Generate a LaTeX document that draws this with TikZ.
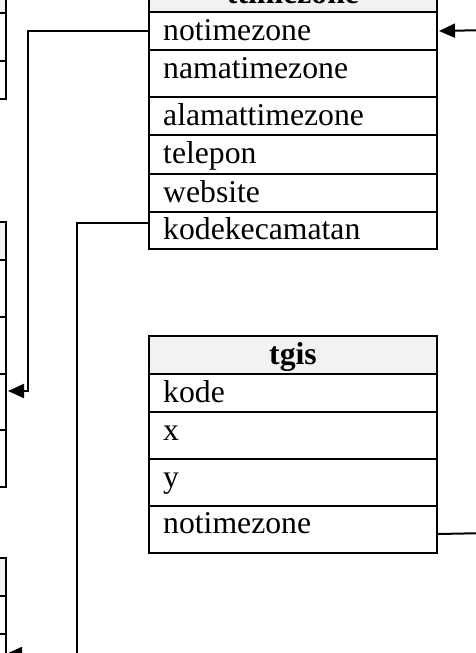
\documentclass[tikz,border=0pt]{standalone}
\usepackage{fontspec}
\setmainfont{Liberation Serif}
\usetikzlibrary{arrows.meta}
\definecolor{headgrey}{HTML}{F2F2F2}
\newcommand\myfieldfont{\fontsize{31.7pt}{36pt}\selectfont}
\tikzset{
  rowbox/.style={draw, line width=2pt, rectangle, inner sep=0pt, minimum width=288pt, anchor=north west, fill=white},
  headbox/.style={rowbox, fill=headgrey},
  leftbox/.style={draw, line width=2pt, rectangle, inner sep=0pt, minimum width=105pt, anchor=north west, fill=white},
  lefthead/.style={leftbox, fill=headgrey},
  fieldtext/.style={anchor=base west, inner sep=0pt, font=\myfieldfont},
  headtext/.style={anchor=base, inner sep=0pt, font=\myfieldfont\bfseries},
  conn/.style={draw, line width=2pt},
  arr/.style={conn, -{Triangle[length=16pt,width=14pt]}}
}
\begin{document}
\begin{tikzpicture}[x=1pt,y=-1pt]
\useasboundingbox (0,0) rectangle (476,653);
\clip (0,0) rectangle (476,653);
\fill[white] (0,0) rectangle (476,653);

% left partial tables (cut off)
\node[lefthead, minimum height=38pt] (la0) at (-100,-26) {};
\node[leftbox, minimum height=48pt] (la1) at (-100,12) {};
\node[leftbox, minimum height=38pt] (la2) at (-100,60) {};

\node[lefthead, minimum height=38pt] (lb0) at (-100,221) {};
\node[leftbox, minimum height=57pt] (lb1) at (-100,259) {};
\node[leftbox, minimum height=57pt] (lb2) at (-100,316) {};
\node[leftbox, minimum height=56pt] (lb3) at (-100,373) {};
\node[leftbox, minimum height=57pt] (lb4) at (-100,429) {};

\node[lefthead, minimum height=38pt] (lc0) at (-100,557) {};
\node[leftbox, minimum height=38pt] (lc1) at (-100,595) {};
\node[leftbox, minimum height=60pt] (lc2) at (-100,633) {};

% ttimezone
\node[headbox, minimum height=37pt] (tzh) at (148,-26) {};
\node[rowbox, minimum height=38pt] (tz1) at (148,11) {};
\node[rowbox, minimum height=47pt] (tz2) at (148,49) {};
\node[rowbox, minimum height=38pt] (tz3) at (148,96) {};
\node[rowbox, minimum height=39pt] (tz4) at (148,134) {};
\node[rowbox, minimum height=38pt] (tz5) at (148,173) {};
\node[rowbox, minimum height=37pt] (tz6) at (148,211) {};
\node[headtext] (tzht) at ([yshift=-29pt]tzh.north) {ttimezone};
\node[fieldtext] (tz1t) at ([shift={(15pt,-29pt)}]tz1.north west) {notimezone};
\node[fieldtext] (tz2t) at ([shift={(15pt,-29pt)}]tz2.north west) {namatimezone};
\node[fieldtext] (tz3t) at ([shift={(15pt,-29pt)}]tz3.north west) {alamattimezone};
\node[fieldtext] (tz4t) at ([shift={(15pt,-29pt)}]tz4.north west) {telepon};
\node[fieldtext] (tz5t) at ([shift={(15pt,-29pt)}]tz5.north west) {website};
\node[fieldtext] (tz6t) at ([shift={(15pt,-28pt)}]tz6.north west) {kodekecamatan};

% tgis
\node[headbox, minimum height=38pt] (tgh) at (148,335) {};
\node[rowbox, minimum height=38pt] (tg1) at (148,373) {};
\node[rowbox, minimum height=47pt] (tg2) at (148,411) {};
\node[rowbox, minimum height=47pt] (tg3) at (148,458) {};
\node[rowbox, minimum height=47pt] (tg4) at (148,505) {};
\node[headtext] (tght) at ([yshift=-29pt]tgh.north) {tgis};
\node[fieldtext] (tg1t) at ([shift={(15pt,-29pt)}]tg1.north west) {kode};
\node[fieldtext] (tg2t) at ([shift={(15pt,-29pt)}]tg2.north west) {x};
\node[fieldtext] (tg3t) at ([shift={(15pt,-29pt)}]tg3.north west) {y};
\node[fieldtext] (tg4t) at ([shift={(15pt,-28pt)}]tg4.north west) {notimezone};

% free ends
\coordinate (c2) at (6,654);
\coordinate (c3) at (490,533);
\coordinate (c4) at (490,30);

% connectors
\draw[arr] (tz1.west) -- ++(-120,0) |- ([shift={(1pt,11pt)}]lb3.east);
\draw[arr] ([yshift=7.5pt]tz6.west) -- ++(-71,0) |- (c2);
\draw[conn] ([yshift=-4.5pt]tg4.east) -- (c3);
\draw[arr] (c4) -- ([xshift=1pt]tz1.east);
\end{tikzpicture}
\end{document}
